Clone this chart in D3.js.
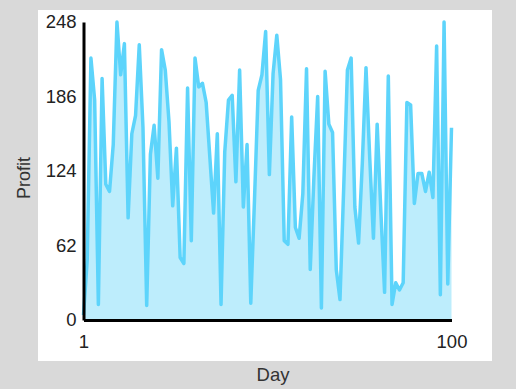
<!DOCTYPE html>
<html>
<head>
<meta charset="utf-8">
<script src="https://cdn.jsdelivr.net/npm/d3@7"></script>
<style>
  html, body { margin: 0; padding: 0; background: #d9d9d9; }
  svg { display: block; }
</style>
</head>
<body>
<div id="chart"></div>
<script>
const profit = [
  4, 50, 218, 183, 13, 201, 113, 107, 146, 248,
  204, 230, 85, 155, 170, 229, 160, 12, 138, 162,
  118, 225, 208, 165, 95, 143, 52, 47, 193, 66,
  218, 194, 197, 181, 135, 89, 155, 13, 140, 183,
  187, 115, 208, 94, 146, 14, 100, 191, 204, 240,
  121, 205, 237, 200, 66, 63, 169, 77, 68, 105,
  209, 42, 120, 186, 10, 207, 163, 156, 42, 17,
  110, 208, 218, 94, 64, 130, 210, 135, 68, 163,
  90, 23, 203, 13, 31, 25, 31, 181, 179, 97,
  122, 122, 107, 123, 102, 228, 21, 248, 30, 160
];
const days = profit.map((d, i) => i + 1);
const yTicks = [0, 62, 124, 186, 248];
const xTicks = [1, 100];

const width = 516;
const height = 389;

const svg = d3.select('#chart')
  .append('svg')
  .attr('width', width)
  .attr('height', height)
  .style('background-color', '#d9d9d9');

// white panel
svg.append('rect')
  .attr('x', 38)
  .attr('y', 10)
  .attr('width', 454)
  .attr('height', 351)
  .attr('fill', '#ffffff');

const xScale = d3.scaleLinear()
  .domain([1, 100])
  .range([83.5, 451.5]);

const yScale = d3.scaleLinear()
  .domain([0, 248])
  .range([320, 22]);

const data = days.map((d, i) => ({ day: d, value: profit[i] }));

// area + line
const area = d3.area()
  .x(d => xScale(d.day))
  .y0(yScale(0))
  .y1(d => yScale(d.value));

const line = d3.line()
  .x(d => xScale(d.day))
  .y(d => yScale(d.value));

svg.append('path')
  .datum(data)
  .attr('d', area)
  .attr('fill', '#bdedfc');

svg.append('path')
  .datum(data)
  .attr('d', line)
  .attr('fill', 'none')
  .attr('stroke', '#5dd4fb')
  .attr('stroke-width', 3.5)
  .attr('stroke-linejoin', 'round');

// Y axis
const yAxis = d3.axisLeft(yScale)
  .tickValues(yTicks)
  .tickSize(0)
  .tickPadding(7);

const gY = svg.append('g')
  .attr('transform', `translate(${xScale(1)}, 0)`)
  .call(yAxis);

// X axis
const xAxis = d3.axisBottom(xScale)
  .tickValues(xTicks)
  .tickSize(0)
  .tickPadding(15);

const gX = svg.append('g')
  .attr('transform', `translate(0, ${yScale(0)})`)
  .call(xAxis);

[gX, gY].forEach(g => {
  g.select('.domain')
    .attr('stroke', '#000')
    .attr('stroke-width', 3);
  g.selectAll('text')
    .attr('fill', '#222')
    .style('font-family', 'Liberation Sans, Arial, sans-serif')
    .style('font-size', '18.5px');
});

// axis titles
svg.append('text')
  .attr('transform', 'translate(30, 178) rotate(-90)')
  .attr('text-anchor', 'middle')
  .attr('fill', '#333')
  .style('font-family', 'Liberation Sans, Arial, sans-serif')
  .style('font-size', '18px')
  .text('Profit');

svg.append('text')
  .attr('x', 273)
  .attr('y', 381)
  .attr('text-anchor', 'middle')
  .attr('fill', '#333')
  .style('font-family', 'Liberation Sans, Arial, sans-serif')
  .style('font-size', '18.5px')
  .text('Day');
</script>
</body>
</html>
